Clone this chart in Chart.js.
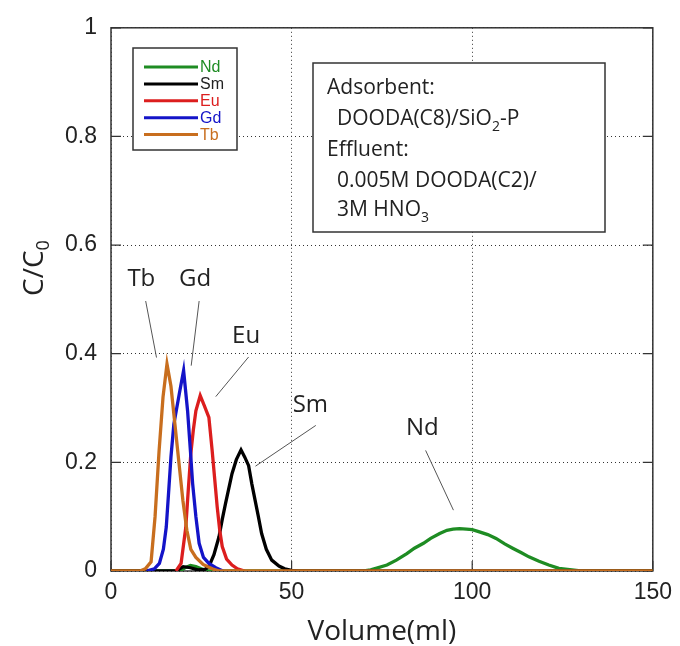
<!DOCTYPE html>
<html>
<head>
<meta charset="utf-8">
<script src="https://cdn.jsdelivr.net/npm/chart.js@4.4.1/dist/chart.umd.min.js"></script>
<style>
  html, body { margin: 0; padding: 0; background: #fff; }
</style>
</head>
<body>
<canvas id="chart" width="680" height="646"></canvas>
<script>
// axis ticks
const xTicks = [0, 50, 100, 150];
const yTicks = [0, 0.2, 0.4, 0.6, 0.8, 1];

// elution curves (volume in ml, C/C0)
const ndVolume = [0, 19.0, 20.5, 22.0, 23.5, 25.0, 27.0, 70.0, 71.9, 76.4, 79.0, 81.9, 84.0, 86.5, 88.5, 91.0, 93.0, 94.7, 96.5, 98.4, 100.0, 102.0, 104.3, 106.6, 109.0, 111.2, 113.5, 115.7, 118.5, 121.2, 124.0, 127.6, 130.0, 150];
const ndConc   = [0, 0, 0.006, 0.01, 0.008, 0.004, 0, 0, 0.002, 0.011, 0.02, 0.032, 0.042, 0.051, 0.06, 0.069, 0.075, 0.077, 0.078, 0.077, 0.076, 0.072, 0.067, 0.06, 0.05, 0.042, 0.034, 0.026, 0.018, 0.011, 0.005, 0.002, 0, 0];

const smVolume = [0, 18.0, 20.0, 22.0, 24.0, 26.0, 27.1, 28.5, 29.9, 30.8, 31.7, 33.5, 34.7, 36.0, 37.0, 38.1, 39.0, 39.9, 40.8, 41.7, 43.0, 44.5, 46.5, 48.1, 50.0, 52.0, 150];
const smConc   = [0, 0, 0.008, 0.006, 0.002, 0.003, 0.008, 0.03, 0.063, 0.095, 0.124, 0.179, 0.205, 0.223, 0.21, 0.194, 0.16, 0.13, 0.10, 0.069, 0.04, 0.02, 0.009, 0.004, 0.001, 0, 0];

const euVolume = [18.0, 19.4, 20.7, 21.4, 22.1, 22.8, 23.5, 24.7, 25.8, 27.1, 28.0, 28.7, 29.4, 30.1, 30.8, 32.0, 33.5, 35.0, 37.0];
const euConc   = [0, 0.014, 0.08, 0.15, 0.216, 0.26, 0.295, 0.323, 0.305, 0.283, 0.222, 0.17, 0.118, 0.075, 0.045, 0.022, 0.011, 0.004, 0];

const gdVolume = [9.8, 12.0, 13.4, 14.5, 15.3, 16.0, 16.6, 17.4, 18.2, 18.9, 20.1, 21.2, 22.0, 22.6, 23.5, 24.4, 25.6, 27.1, 29.0, 31.0];
const gdConc   = [0, 0.004, 0.014, 0.04, 0.081, 0.15, 0.21, 0.27, 0.30, 0.326, 0.369, 0.295, 0.22, 0.161, 0.10, 0.051, 0.025, 0.014, 0.006, 0];

const tbVolume = [0, 8.0, 9.5, 11.1, 12.2, 13.3, 14.4, 15.5, 16.6, 17.7, 18.8, 19.9, 21.0, 22.1, 23.5, 25.5, 28.0, 30.0, 150];
const tbConc   = [0, 0, 0.004, 0.017, 0.10, 0.22, 0.32, 0.381, 0.34, 0.27, 0.20, 0.13, 0.075, 0.04, 0.025, 0.012, 0.004, 0, 0];

const seriesNames = ['Nd', 'Sm', 'Eu', 'Gd', 'Tb'];
const seriesColors = ['#1e8c23', '#000000', '#dc1e1e', '#1414c8', '#c86e1e'];

// peak labels with leader lines (data units)
const peakNames = ['Tb', 'Gd', 'Eu', 'Sm', 'Nd'];
const peakLabelX = [8.4, 23.3, 37.4, 55.2, 86.2];
const peakLabelY = [0.525, 0.525, 0.42, 0.292, 0.25];
const leaderX1 = [9.6, 24.4, 38.1, 56.7, 87.1];
const leaderY1 = [0.497, 0.497, 0.394, 0.268, 0.222];
const leaderX2 = [12.6, 22.2, 29.0, 40.0, 94.8];
const leaderY2 = [0.393, 0.378, 0.321, 0.193, 0.112];

// condition box text: [text, subscript?]
const infoLines = [
  { indent: 0, parts: [['Adsorbent:', false]] },
  { indent: 10, parts: [['DOODA(C8)/SiO', false], ['2', true], ['-P', false]] },
  { indent: 0, parts: [['Effluent:', false]] },
  { indent: 10, parts: [['0.005M DOODA(C2)/', false]] },
  { indent: 10, parts: [['3M HNO', false], ['3', true]] },
];

const curves = [
  [ndVolume, ndConc],
  [smVolume, smConc],
  [euVolume, euConc],
  [gdVolume, gdConc],
  [tbVolume, tbConc],
];

const TEXT = '#222';
const LINE = '#333';

function drawParts(ctx, parts, x, y, size, subSize) {
  parts.forEach(([t, sub]) => {
    ctx.font = (sub ? subSize : size) + 'px "Open Sans"';
    ctx.fillText(t, x, sub ? y + 6 : y);
    x += ctx.measureText(t).width;
  });
}

const decorations = {
  id: 'decorations',
  beforeDatasetsDraw(chart) {
    const { ctx, chartArea: a, scales: { x, y } } = chart;
    ctx.save();
    ctx.strokeStyle = LINE;
    ctx.lineWidth = 1.5;
    ctx.strokeRect(a.left, a.top, a.right - a.left, a.bottom - a.top);
    // inward tick marks
    ctx.lineWidth = 1.2;
    ctx.beginPath();
    yTicks.forEach(v => {
      const py = y.getPixelForValue(v);
      ctx.moveTo(a.left, py); ctx.lineTo(a.left + 10, py);
      ctx.moveTo(a.right, py); ctx.lineTo(a.right - 10, py);
    });
    xTicks.forEach(v => {
      const px = x.getPixelForValue(v);
      ctx.moveTo(px, a.bottom); ctx.lineTo(px, a.bottom - 10);
    });
    ctx.stroke();
    ctx.restore();
  },
  afterDraw(chart) {
    const { ctx, chartArea: a, scales: { x, y } } = chart;
    ctx.save();

    // legend box
    ctx.fillStyle = '#fff';
    ctx.fillRect(133, 48, 104, 102);
    ctx.strokeStyle = LINE;
    ctx.lineWidth = 1.5;
    ctx.strokeRect(133, 48, 104, 102);
    ctx.font = '16px "Liberation Sans", Arial, sans-serif';
    ctx.textBaseline = 'middle';
    ctx.textAlign = 'left';
    seriesNames.forEach((name, i) => {
      const ly = 67 + i * 16.9;
      ctx.strokeStyle = seriesColors[i];
      ctx.lineWidth = 3;
      ctx.beginPath();
      ctx.moveTo(144, ly); ctx.lineTo(198, ly);
      ctx.stroke();
      ctx.fillStyle = seriesColors[i] === '#000000' ? TEXT : seriesColors[i];
      ctx.fillText(name, 200, ly + 1);
    });

    // conditions box
    ctx.fillStyle = '#fff';
    ctx.fillRect(313, 63, 292, 169);
    ctx.strokeStyle = LINE;
    ctx.lineWidth = 1.5;
    ctx.strokeRect(313, 63, 292, 169);
    ctx.fillStyle = TEXT;
    ctx.textBaseline = 'alphabetic';
    const baselines = [94, 125, 156, 187, 216];
    infoLines.forEach((ln, i) => drawParts(ctx, ln.parts, 327 + ln.indent, baselines[i], 21, 14));

    // peak labels + leader lines
    ctx.strokeStyle = '#555';
    ctx.lineWidth = 1;
    ctx.textAlign = 'center';
    ctx.font = '24px "Open Sans"';
    peakNames.forEach((p, i) => {
      ctx.fillText(p, x.getPixelForValue(peakLabelX[i]), y.getPixelForValue(peakLabelY[i]));
      ctx.beginPath();
      ctx.moveTo(x.getPixelForValue(leaderX1[i]), y.getPixelForValue(leaderY1[i]));
      ctx.lineTo(x.getPixelForValue(leaderX2[i]), y.getPixelForValue(leaderY2[i]));
      ctx.stroke();
    });

    // axis titles
    ctx.font = '28px "Open Sans"';
    ctx.fillText('Volume(ml)', (a.left + a.right) / 2, 640);

    ctx.translate(43, 268);
    ctx.rotate(-Math.PI / 2);
    ctx.textAlign = 'left';
    ctx.font = '28px "Open Sans"';
    const w1 = ctx.measureText('C/C').width;
    ctx.font = '18px "Open Sans"';
    const w2 = ctx.measureText('0').width;
    drawParts(ctx, [['C/C', false], ['0', true]], -(w1 + w2) / 2, 0, 28, 18);
    ctx.restore();
  }
};

const tickFont = { family: '"Liberation Sans", Arial, sans-serif', size: 23 };

new Chart(document.getElementById('chart'), {
  type: 'scatter',
  data: {
    datasets: curves.map(([vol, conc], i) => ({
      label: seriesNames[i],
      data: vol.map((v, j) => ({ x: v, y: conc[j] })),
      showLine: true,
      borderColor: seriesColors[i],
      backgroundColor: seriesColors[i],
      borderWidth: 3.3,
      pointRadius: 0,
      tension: 0,
      order: seriesNames.length - i, // Tb on top
    })),
  },
  options: {
    responsive: false,
    animation: false,
    layout: { padding: { top: 26, right: 22, left: 0, bottom: 0 } },
    plugins: { legend: { display: false }, tooltip: { enabled: false } },
    scales: {
      x: {
        type: 'linear', min: 0, max: 150,
        ticks: { stepSize: 50, padding: 8, font: tickFont, color: TEXT },
        grid: { color: LINE, lineWidth: 1, drawTicks: false },
        border: { display: false, dash: [1, 3] },
        afterFit: s => { s.height = 75; },
      },
      y: {
        min: 0, max: 1, z: 1,
        ticks: {
          stepSize: 0.2, padding: 14, font: tickFont, color: TEXT,
          callback: v => String(+v.toFixed(1)),
        },
        grid: { color: LINE, lineWidth: 1, drawTicks: false },
        border: { display: false, dash: [1, 3] },
        afterFit: s => { s.width = 111; },
      },
    },
  },
  plugins: [decorations],
});
</script>
</body>
</html>
